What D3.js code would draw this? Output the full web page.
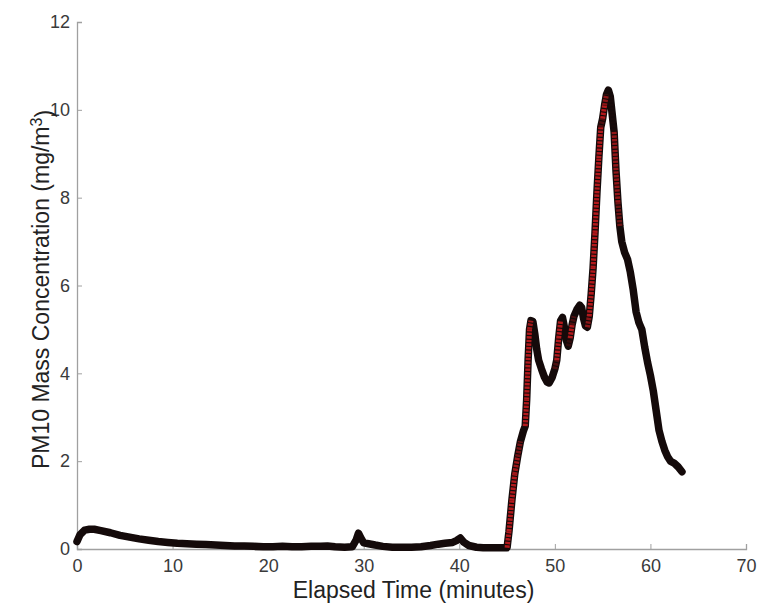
<!DOCTYPE html>
<html>
<head>
<meta charset="utf-8">
<script src="https://cdn.jsdelivr.net/npm/d3@7"></script>
<style>
  html, body { margin: 0; padding: 0; background: #fff; }
  svg { display: block; }
  text { font-family: "Liberation Sans", Arial, sans-serif; }
</style>
</head>
<body>
<svg id="chart" width="763" height="606"></svg>
<script>
// Elapsed time of each PM10 sample (minutes)
const timeMin = [
  0, 0.3, 0.8, 1.3, 1.8, 2.5, 3.5, 4.5, 5.5, 6.5, 7.5, 8.5, 9.5, 10.5, 11.5, 12.5,
  13.5, 14.5, 15.5, 16.5, 17.5, 18.5, 19.5, 20.5, 21.5, 22.5, 23.5, 24.5, 25.5, 26.2,
  27, 28, 28.8, 29.2, 29.45, 29.7, 30.0, 30.5, 31.2, 32, 33, 34, 35, 36, 37, 37.8,
  38.5, 39.3, 39.7, 40.1, 40.5, 41, 41.8, 42.5, 43.5, 44.5, 45.0,
  45.2, 45.5, 45.8, 46.1, 46.4, 46.7, 46.9, 47.05, 47.2, 47.35, 47.5, 47.7, 47.9,
  48.1, 48.3, 48.6, 48.9, 49.2, 49.4, 49.7, 50.0, 50.2, 50.4, 50.6, 50.8, 51.0,
  51.2, 51.4, 51.6, 51.8, 52.0, 52.3, 52.6, 52.8, 53.0, 53.2, 53.4, 53.6, 53.8,
  54.0, 54.2, 54.4, 54.6, 54.8, 55.0, 55.2, 55.4, 55.6, 55.8, 56.0, 56.2, 56.4,
  56.6, 56.8, 57.0, 57.3, 57.6, 57.9, 58.2, 58.5, 58.8, 59.1, 59.4, 59.7, 60.0,
  60.3, 60.6, 60.9, 61.2, 61.5, 61.8, 62.1, 62.5, 62.9, 63.3
];

// PM10 mass concentration at each sample (mg/m^3)
const pm10 = [
  0.17, 0.32, 0.43, 0.45, 0.45, 0.42, 0.37, 0.31, 0.27, 0.23, 0.20, 0.17, 0.15, 0.13, 0.12, 0.11,
  0.10, 0.09, 0.08, 0.07, 0.07, 0.06, 0.05, 0.05, 0.06, 0.05, 0.05, 0.06, 0.06, 0.07,
  0.05, 0.04, 0.05, 0.20, 0.36, 0.25, 0.14, 0.12, 0.09, 0.06, 0.04, 0.04, 0.04, 0.05, 0.08, 0.11,
  0.13, 0.15, 0.19, 0.25, 0.15, 0.08, 0.04, 0.03, 0.03, 0.03, 0.03,
  0.4, 1.1, 1.7, 2.1, 2.45, 2.68, 2.8, 3.4, 4.3, 5.0, 5.2, 5.18, 4.9,
  4.55, 4.3, 4.1, 3.92, 3.8, 3.78, 3.9, 4.1, 4.3, 4.8, 5.2, 5.27, 5.05,
  4.75, 4.62, 4.8, 5.1, 5.3, 5.45, 5.55, 5.5, 5.25, 5.08, 5.05, 5.3, 5.8,
  6.4, 7.2, 8.1, 8.9, 9.6, 9.8, 10.1, 10.35, 10.45, 10.3, 9.9, 9.5, 8.6,
  7.9, 7.35, 7.0, 6.75, 6.6, 6.3, 5.9, 5.4, 5.15, 5.0, 4.6, 4.25, 3.95,
  3.6, 3.15, 2.7, 2.45, 2.25, 2.1, 2.0, 1.95, 1.87, 1.76
];

const xTicks = [0, 10, 20, 30, 40, 50, 60, 70];
const yTicks = [0, 2, 4, 6, 8, 10, 12];

const svg = d3.select("#chart");
const margin = { left: 77, right: 17, top: 22, bottom: 57 };
const W = 763, H = 606;

const x = d3.scaleLinear().domain([0, 70]).range([margin.left, W - margin.right]);
const y = d3.scaleLinear().domain([0, 12]).range([H - margin.bottom, margin.top]);

const axisColor = "#a0a0a0";
const labelColor = "#3a3a3a";

// Bottom axis, ticks pointing inward
const gx = svg.append("g")
  .attr("transform", `translate(0,${y(0)})`)
  .call(d3.axisBottom(x).tickValues(xTicks).tickSize(-5).tickPadding(9).tickFormat(d3.format("d")));

// Left axis, ticks pointing inward
const gy = svg.append("g")
  .attr("transform", `translate(${x(0)},0)`)
  .call(d3.axisLeft(y).tickValues(yTicks).tickSize(-5).tickPadding(7).tickFormat(d3.format("d")));

[gx, gy].forEach(g => {
  g.select(".domain").attr("stroke", axisColor).attr("stroke-width", 1.3);
  g.selectAll(".tick line").attr("stroke", axisColor).attr("stroke-width", 1);
  g.selectAll(".tick text")
    .attr("fill", labelColor)
    .style("font-size", "18px");
});
gx.selectAll(".tick text").attr("dy", "0.75em");

// Series
const pts = timeMin.map((t, i) => [x(t), y(pm10[i])]);
const plot = svg.append("g");

const line = d3.line().curve(d3.curveLinear);
plot.append("path")
  .attr("d", line(pts))
  .attr("fill", "none")
  .attr("stroke", "#140a0a")
  .attr("stroke-width", 7.5)
  .attr("stroke-linejoin", "round")
  .attr("stroke-linecap", "round");

// Red core on steep stretches, where individual samples are spread apart
const segs = [];
for (let i = 0; i < pts.length - 1; i++) {
  const dx = pts[i + 1][0] - pts[i][0];
  const dy = pts[i][1] - pts[i + 1][1];
  const s = dy / Math.max(dx, 0.01);
  let a = 0;
  if (s > 0) a = Math.max(0, Math.min(1, (s - 3.5) / 3));
  else a = Math.max(0, Math.min(1, (-s - 9) / 5)) * 0.8;
  if (a > 0) segs.push({ p0: pts[i], p1: pts[i + 1], a });
}
plot.selectAll("line.red")
  .data(segs)
  .join("line")
  .attr("class", "red")
  .attr("x1", d => d.p0[0]).attr("y1", d => d.p0[1])
  .attr("x2", d => d.p1[0]).attr("y2", d => d.p1[1])
  .attr("stroke", "#b3191c")
  .attr("stroke-opacity", d => d.a)
  .attr("stroke-width", 5)
  .attr("stroke-dasharray", "2.4,1.2");

// Axis titles
svg.append("text")
  .attr("x", (x(0) + x(70)) / 2 + 2)
  .attr("y", 598)
  .attr("text-anchor", "middle")
  .attr("fill", "#222")
  .style("font-size", "23px")
  .text("Elapsed Time (minutes)");

const yl = svg.append("text")
  .attr("transform", `translate(49,${(y(0) + y(12)) / 2 + 4}) rotate(-90)`)
  .attr("text-anchor", "middle")
  .attr("fill", "#222")
  .style("font-size", "23px");
yl.append("tspan").text("PM10 Mass Concentration (mg/m");
yl.append("tspan").attr("dy", "-0.45em").style("font-size", "16px").text("3");
yl.append("tspan").attr("dy", "0.45em").text(")");
</script>
</body>
</html>
